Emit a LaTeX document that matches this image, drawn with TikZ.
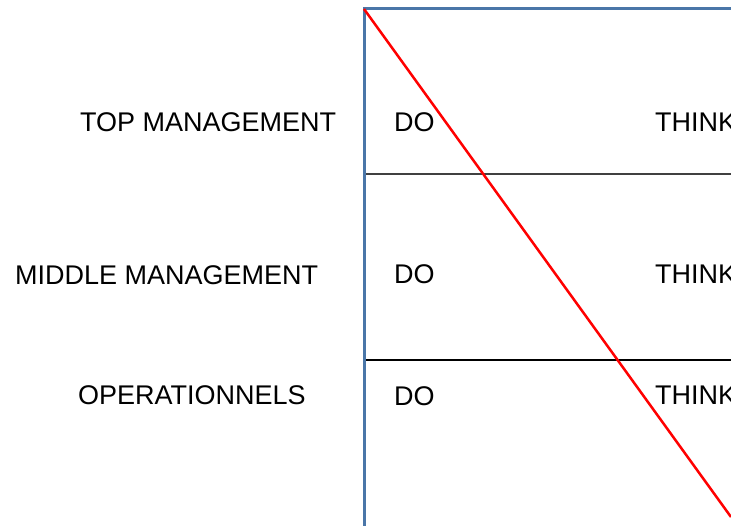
\documentclass[tikz,border=0pt]{standalone}
\usepackage{fontspec}
\setmainfont{Liberation Sans}
\definecolor{frameblue}{HTML}{4A76A8}
\definecolor{rulegray}{HTML}{404040}
\begin{document}
\begin{tikzpicture}[x=1pt,y=-1pt,
  lbl/.style={anchor=base west,inner sep=0pt,font=\fontsize{27}{31}\selectfont}]
\useasboundingbox (0,0) rectangle (731,526);
\begin{scope}
\clip (0,0) rectangle (731,526);
\coordinate (tl) at (364,9);
\coordinate (br) at (800,580);
\coordinate (h1l) at (364,174);
\coordinate (h1r) at (800,174);
\coordinate (h2l) at (364,360);
\coordinate (h2r) at (800,360);
\coordinate (diagend) at (731,517);
\draw[rulegray,line width=2pt] (h1l) -- (h1r);
\draw[black,line width=1.1pt] (h2l) -- (h2r);
\draw[frameblue,line width=3pt] (tl) rectangle (br);
\draw[red,line width=2.5pt] (tl) -- (diagend);
\node[lbl] (top) at (80,132) {TOP MANAGEMENT};
\node[lbl] (mid) at (15,285) {MIDDLE MANAGEMENT};
\node[lbl] (ope) at (78,405) {OPERATIONNELS};
\node[lbl] (do1) at (394,132) {DO};
\node[lbl] (do2) at (394,284) {DO};
\node[lbl] (do3) at (394,406) {DO};
\node[lbl] (th1) at (655,132) {THINK};
\node[lbl] (th2) at (655,284) {THINK};
\node[lbl] (th3) at (655,405) {THINK};
\end{scope}
\end{tikzpicture}
\end{document}
